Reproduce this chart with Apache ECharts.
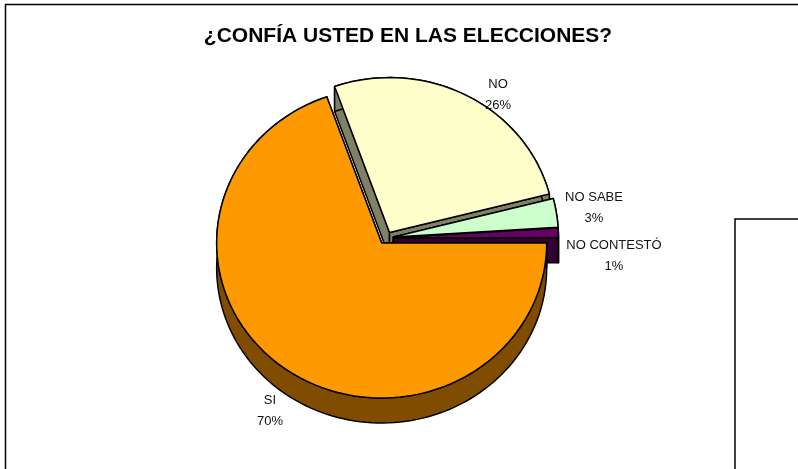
<!DOCTYPE html>
<html>
<head>
<meta charset="utf-8">
<style>html,body{margin:0;padding:0;background:#fff}#container1{width:798px;height:469px}</style>
<script src="https://cdn.jsdelivr.net/npm/echarts@6/dist/echarts.min.js"></script>
</head>
<body>
<div id="container1"></div>
<script>
var categories = ['SI', 'NO', 'NO SABE', 'NO CONTESTÓ'];
// read from the slice edges, the labels show them rounded
var percents = [69.6, 26.4, 3, 1];

// looks
var topColors = ['#FF9900', '#FFFFCC', '#CCFFCC', '#660066'];
var wallColors = ['#804D00', '#808066', '#668066', '#330033'];
var labelPos = [[270, 411], [498, 95], [594, 208], [614, 256]];

// fake 3d pie geometry
var cx = 386, cy = 238;
var rx = 165, ry = 155;
var depth = 25;
var explode = 7.5, explodeY = 0.82;

var total = percents.reduce(function (a, b) { return a + b; }, 0);

function arcPoints(ox, oy, from, to) {
    var pts = [];
    var steps = Math.max(2, Math.ceil((to - from) / 2));
    for (var i = 0; i <= steps; i++) {
        var a = (from + (to - from) * i / steps) * Math.PI / 180;
        pts.push([ox + rx * Math.cos(a), oy + ry * Math.sin(a)]);
    }
    return pts;
}

function poly(points, fill) {
    return {
        type: 'polygon',
        shape: { points: points },
        style: { fill: fill, stroke: '#000', lineWidth: 1.5, lineJoin: 'round' }
    };
}

function renderSlice(params, api) {
    var i = params.dataIndex;
    var start = 0;
    for (var k = 0; k < i; k++) start += percents[k];
    var a0 = start / total * 360;
    var a1 = (start + api.value(1)) / total * 360;
    var mid = (a0 + a1) / 2 * Math.PI / 180;
    var ox = cx + explode * Math.cos(mid);
    var oy = cy + explode * explodeY * Math.sin(mid);

    var arc = arcPoints(ox, oy, a0, a1);
    var first = arc[0], last = arc[arc.length - 1];
    var shifted = arc.map(function (p) { return [p[0], p[1] + depth]; }).reverse();
    var children = [];

    // side walls first, the top goes over them
    children.push(poly([[ox, oy], [ox, oy + depth], [first[0], first[1] + depth], first], wallColors[i]));
    children.push(poly([[ox, oy], [ox, oy + depth], [last[0], last[1] + depth], last], wallColors[i]));
    children.push(poly(arc.concat(shifted), wallColors[i]));
    children.push(poly([[ox, oy]].concat(arc), topColors[i]));

    var lines = categories[i] + '\n' + Math.round(api.value(1)) + '%';
    children.push({
        type: 'text',
        z2: 10,
        style: {
            x: labelPos[i][0],
            y: labelPos[i][1],
            text: lines,
            align: 'center',
            verticalAlign: 'middle',
            fill: '#111',
            font: '13px "Liberation Sans"',
            lineHeight: 21
        }
    });
    return { type: 'group', children: children };
}

// back slices first so the orange one ends up on top
var drawOrder = [1, 2, 3, 0];

var dom = document.getElementById('container1');
var myChart = echarts.init(dom, null, { renderer: 'canvas' });
var option = {
    animation: false,
    backgroundColor: '#fff',
    title: {
        text: '¿CONFÍA USTED EN LAS ELECCIONES?',
        left: 403,
        top: 21,
        textAlign: 'center',
        textStyle: {
            fontFamily: 'Liberation Sans',
            fontWeight: 'bold',
            fontSize: 21,
            color: '#000'
        }
    },
    graphic: [
        { type: 'polyline', silent: true, shape: { points: [[5.5, 469], [5.5, 4.5], [798, 4.5]] }, style: { fill: null, stroke: '#000', lineWidth: 1.5 } },
        { type: 'polyline', silent: true, shape: { points: [[735, 469], [735, 219], [798, 219]] }, style: { fill: null, stroke: '#000', lineWidth: 1.5 } }
    ],
    series: drawOrder.map(function (idx) {
        return {
            type: 'custom',
            name: categories[idx],
            coordinateSystem: 'none',
            silent: true,
            clip: false,
            renderItem: function (params, api) {
                return renderSlice({ dataIndex: idx }, api);
            },
            data: [[idx, percents[idx]]]
        };
    })
};
if (option && typeof option === 'object') {
    myChart.setOption(option, true);
}
</script>
</body>
</html>
